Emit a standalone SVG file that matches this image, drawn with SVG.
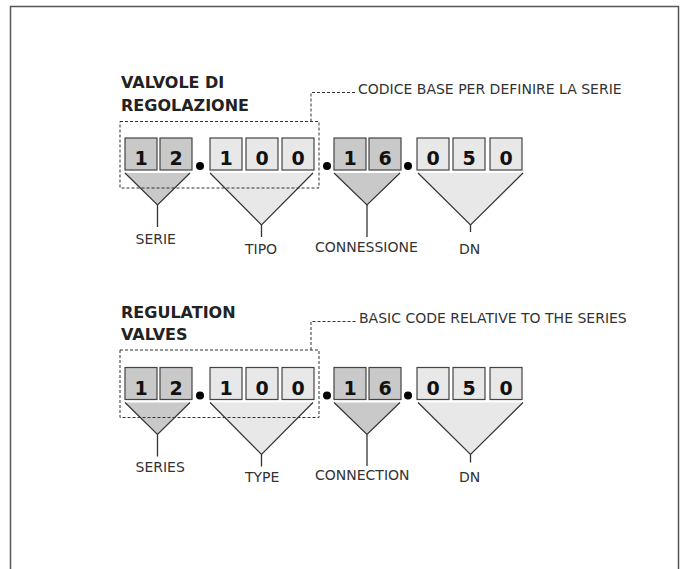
<svg xmlns="http://www.w3.org/2000/svg" width="683" height="569" viewBox="0 0 683 569">
<style>
.title{font-family:"DejaVu Sans","Liberation Sans",sans-serif;font-weight:bold;font-size:16px;fill:#222}
.note{font-family:"DejaVu Sans","Liberation Sans",sans-serif;font-size:14px;fill:#333}
.lbl{font-family:"DejaVu Sans","Liberation Sans",sans-serif;font-size:14px;fill:#333}
.dig{font-family:"DejaVu Sans","Liberation Sans",sans-serif;font-weight:bold;font-size:19px;fill:#111;text-anchor:middle}
.bd{fill:#c9c9c9;stroke:#444;stroke-width:1.2}
.bl{fill:#e8e8e8;stroke:#444;stroke-width:1.2}
.td{fill:#c9c9c9;stroke:#333;stroke-width:1.2}
.tl{fill:#e8e8e8;stroke:#333;stroke-width:1.2}
.dash{fill:none;stroke:#333;stroke-width:1;stroke-dasharray:3,2}
.ln{stroke:#333;stroke-width:1.3;fill:none}
.dot{fill:#000}
</style>
<defs>
<g id="row">
<g id="boxes">
<rect class="bd" x="125" y="138" width="32" height="32"/><text class="dig" x="141" y="165">1</text>
<rect class="bd" x="160" y="138" width="32" height="32"/><text class="dig" x="176" y="165">2</text>
<circle class="dot" cx="200" cy="166" r="4"/>
<rect class="bl" x="210" y="138" width="32" height="32"/><text class="dig" x="226" y="165">1</text>
<rect class="bl" x="246" y="138" width="32" height="32"/><text class="dig" x="262" y="165">0</text>
<rect class="bl" x="282" y="138" width="32" height="32"/><text class="dig" x="298" y="165">0</text>
<circle class="dot" cx="327" cy="166" r="4"/>
<rect class="bd" x="334" y="138" width="32" height="32"/><text class="dig" x="350" y="165">1</text>
<rect class="bd" x="369" y="138" width="32" height="32"/><text class="dig" x="385" y="165">6</text>
<circle class="dot" cx="408" cy="166" r="4"/>
<rect class="bl" x="417" y="138" width="32" height="32"/><text class="dig" x="433" y="165">0</text>
<rect class="bl" x="453" y="138" width="32" height="32"/><text class="dig" x="469" y="165">5</text>
<rect class="bl" x="490" y="138" width="32" height="32"/><text class="dig" x="506" y="165">0</text>
</g>
<path class="td" d="M125,173 L157.5,205 L190,173"/>
<path class="tl" d="M210,173 L261.5,225 L313,173"/>
<path class="td" d="M334,173 L367,205 L400,173"/>
<path class="tl" d="M418,173 L470.5,225 L523,173"/>
</g>
</defs>
<rect x="10.5" y="6.5" width="668" height="600" fill="#fff" stroke="#555" stroke-width="1.5"/>

<g id="block-it">
<g id="title-it"><text class="title" x="121" y="88">VALVOLE DI</text><text class="title" x="121" y="110.5">REGOLAZIONE</text></g>
<g id="code-it"><use href="#row"/></g>
<g id="note-it"><text class="note" x="358" y="94">CODICE BASE PER DEFINIRE LA SERIE</text></g>
<g id="lbl-serie"><text class="lbl" x="135.5" y="243.5">SERIE</text></g>
<g id="lbl-tipo"><text class="lbl" x="245" y="253.5">TIPO</text></g>
<g id="lbl-conn"><text class="lbl" x="315" y="251.5">CONNESSIONE</text></g>
<g id="lbl-dn"><text class="lbl" x="459" y="253.5">DN</text></g>
<g id="connectors-it">
<rect class="dash" x="120" y="121.5" width="199" height="66.5"/>
<path class="dash" d="M311,121.5 V92.5 H356"/>
<line class="ln" x1="157.5" y1="205" x2="157.5" y2="227"/>
<line class="ln" x1="261.5" y1="225" x2="261.5" y2="237"/>
<line class="ln" x1="367" y1="205" x2="367" y2="237"/>
<line class="ln" x1="470.5" y1="225" x2="470.5" y2="232"/>
</g>
</g>

<g id="block-en">
<g id="title-en"><text class="title" x="121" y="318">REGULATION</text><text class="title" x="121" y="340">VALVES</text></g>
<g id="code-en"><use href="#row" transform="translate(0,229.5)"/></g>
<g id="note-en"><text class="note" x="359" y="323">BASIC CODE RELATIVE TO THE SERIES</text></g>
<g id="lbl-series"><text class="lbl" x="135.5" y="472">SERIES</text></g>
<g id="lbl-type"><text class="lbl" x="245" y="482">TYPE</text></g>
<g id="lbl-connection"><text class="lbl" x="315" y="480">CONNECTION</text></g>
<g id="lbl-dn2"><text class="lbl" x="459" y="482">DN</text></g>
<g id="connectors-en">
<rect class="dash" x="120" y="350" width="199" height="67.5"/>
<path class="dash" d="M311,350 V321.5 H357"/>
<line class="ln" x1="157.5" y1="434.5" x2="157.5" y2="456.5"/>
<line class="ln" x1="261.5" y1="454.5" x2="261.5" y2="466.5"/>
<line class="ln" x1="367" y1="434.5" x2="367" y2="466"/>
<line class="ln" x1="470.5" y1="454.5" x2="470.5" y2="462.5"/>
</g>
</g>
</svg>
